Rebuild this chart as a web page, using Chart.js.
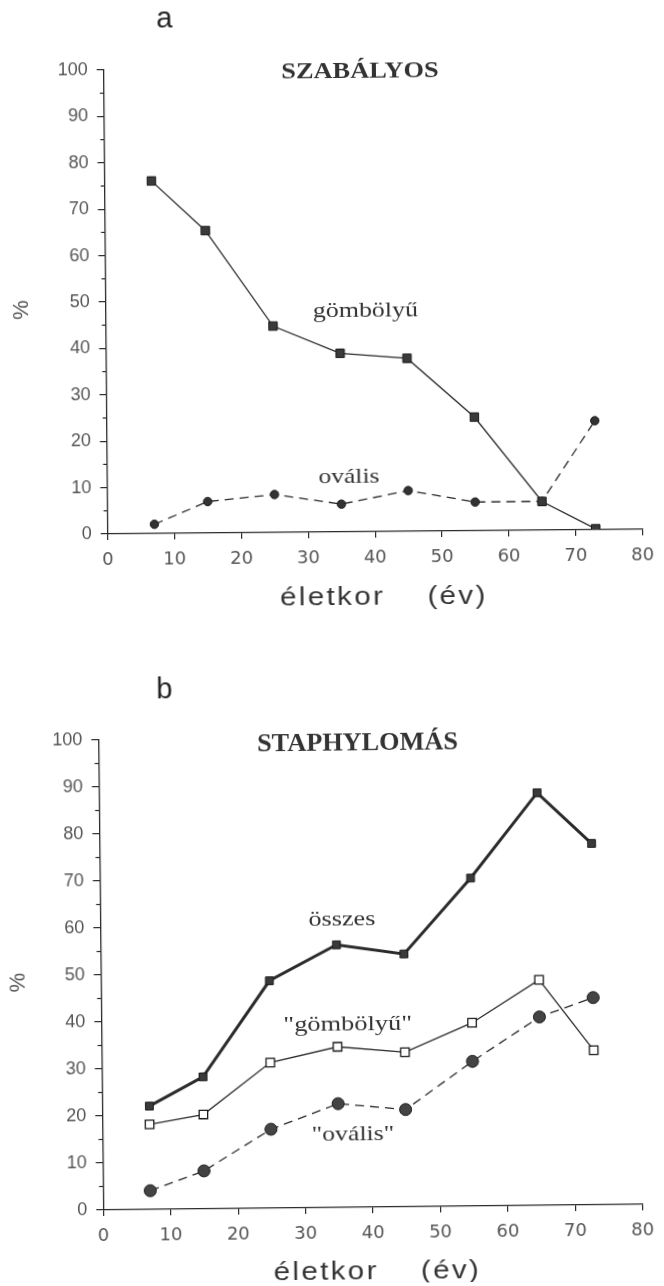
<!DOCTYPE html>
<html><head><meta charset="utf-8">
<script src="https://cdn.jsdelivr.net/npm/chart.js@4.4.1/dist/chart.umd.min.js"></script>
<style>
html,body{margin:0;padding:0;background:#fff;}
#wrap{position:relative;width:664px;height:1286px;overflow:hidden;background:#fff;}
.cv{position:absolute;left:0;width:664px;height:643px;}
</style></head><body>
<div id="wrap">
<div class="cv" id="wa" style="top:0;transform-origin:107.7px 534px;transform:rotate(-0.5deg)"><canvas id="ca" width="664" height="643"></canvas></div>
<div class="cv" id="wb" style="top:643px;transform-origin:103.3px 567px;transform:rotate(-0.6deg)"><canvas id="cb" width="664" height="643"></canvas></div>
</div>
<script>
// ---- data (age in years, % of eyes) ----
const ages = [7, 15, 25, 35, 45, 55, 65, 73];
const aRound = [76.0, 65.2, 44.5, 38.5, 37.3, 24.5, 6.2, 0.2];
const aOval = [2.0, 6.8, 8.2, 6.0, 8.8, 6.2, 6.2, 23.5];
const bTotal = [22.0, 28.1, 48.4, 55.9, 53.8, 69.8, 87.8, 76.9];
const bRound = [18.1, 20.1, 31.0, 34.2, 32.9, 39.0, 48.0, 32.9];
const bOval = [4.0, 8.1, 16.8, 22.1, 20.7, 30.8, 40.1, 44.1];
const xTickValues = [0, 10, 20, 30, 40, 50, 60, 70, 80];
const yTickValues = [0, 10, 20, 30, 40, 50, 60, 70, 80, 90, 100];
const yMinorValues = [5, 15, 25, 35, 45, 55, 65, 75, 85, 95];

const pts = (ys) => ages.map((x, i) => ({x: x, y: ys[i]}));

const INK = '#2b2b2b';

const annotPlugin = {
  id: 'annot',
  afterDraw(chart, args, opts) {
    const ctx = chart.ctx;
    const ys = chart.scales.y;
    ctx.save();
    ctx.strokeStyle = INK; ctx.lineWidth = 1.2;
    yMinorValues.forEach(v => {
      const py = ys.getPixelForValue(v);
      ctx.beginPath(); ctx.moveTo(ys.right, py); ctx.lineTo(ys.right - 4, py); ctx.stroke();
    });
    const th = opts.angle * Math.PI / 180, px = opts.pivot[0], py = opts.pivot[1];
    (opts.texts || []).forEach(t => {
      // measured screen position -> canvas position (undo page tilt)
      const dx = t.x - px, dy = t.y - py;
      const cx = px + dx * Math.cos(th) - dy * Math.sin(th);
      const cy = py + dx * Math.sin(th) + dy * Math.cos(th);
      ctx.save();
      ctx.font = t.font;
      ctx.fillStyle = t.color || '#333';
      ctx.textAlign = 'center';
      ctx.textBaseline = t.baseline || 'alphabetic';
      ctx.letterSpacing = t.ls || '0px';
      ctx.translate(cx, cy);
      if (t.rot) ctx.rotate(t.rot);
      ctx.scale(t.sx || 1, 1);
      ctx.fillText(t.text, 0, 0);
      ctx.restore();
    });
    ctx.restore();
  }
};

function makeChart(id, datasets, area, angle, texts) {
  return new Chart(document.getElementById(id), {
    type: 'scatter',
    data: { datasets: datasets },
    options: {
      responsive: false,
      animation: false,
      events: [],
      layout: { padding: { top: area.top, right: 664 - area.right, left: 0, bottom: 0 } },
      plugins: { legend: { display: false }, tooltip: { enabled: false },
        annot: { texts: texts, angle: angle, pivot: [area.left, area.bottom] } },
      scales: {
        x: {
          type: 'linear', min: 0, max: 80,
          afterFit: s => { s.height = 643 - area.bottom; },
          afterBuildTicks: s => { s.ticks = xTickValues.map(v => ({value: v})); },
          grid: { drawOnChartArea: false, drawTicks: true, tickLength: 6, color: INK, lineWidth: 1.2 },
          border: { display: true, color: INK, width: 1.3 },
          ticks: { padding: 10, color: '#555', font: { family: 'DejaVu Sans', size: 18 }, maxRotation: 0 }
        },
        y: {
          type: 'linear', min: 0, max: 100,
          afterFit: s => { s.width = area.left; },
          afterBuildTicks: s => { s.ticks = yTickValues.map(v => ({value: v})); },
          grid: { drawOnChartArea: false, drawTicks: true, tickLength: 7, color: INK, lineWidth: 1.2 },
          border: { display: true, color: INK, width: 1.3 },
          ticks: { padding: 9, color: '#555', font: { family: 'Liberation Sans', size: 18 } }
        }
      }
    },
    plugins: [annotPlugin]
  });
}

const serif = (s, b) => (b ? 'bold ' : '') + s + 'px "Liberation Serif", "Times New Roman", serif';
const sans = (s) => s + 'px "Liberation Sans", Arial, sans-serif';

makeChart('ca', [
  { label: 'gömbölyű', data: pts(aRound), showLine: true, borderColor: INK, borderWidth: 1.3,
    pointStyle: 'rect', pointRadius: 6, backgroundColor: '#3a3a3a', pointBorderColor: '#1a1a1a', pointBorderWidth: 1 },
  { label: 'ovális', data: pts(aOval), showLine: true, borderColor: INK, borderWidth: 1.3, borderDash: [9, 6],
    pointStyle: 'circle', pointRadius: 4.2, backgroundColor: '#333', pointBorderColor: '#1a1a1a', pointBorderWidth: 1 }
], { left: 107.7, right: 652.3, top: 70, bottom: 534 }, 0.5, [
  { text: 'a', x: 164.5, y: 27, font: sans(29), color: '#222' },
  { text: 'SZABÁLYOS', x: 360, y: 78, font: serif(24, true), sx: 1.1, color: '#333' },
  { text: 'gömbölyű', x: 365.5, y: 317, font: serif(22), sx: 1.18, color: '#333' },
  { text: 'ovális', x: 349, y: 482.7, font: serif(22), sx: 1.16, color: '#333' },
  { text: '%', x: 21.7, y: 310, font: sans(22), rot: -Math.PI / 2, baseline: 'middle', color: '#555' },
  { text: 'életkor    (év)', x: 384, y: 605, font: sans(25), sx: 1.18, ls: '2px', color: '#333' }
]);

makeChart('cb', [
  { label: 'összes', data: pts(bTotal), showLine: true, borderColor: INK, borderWidth: 3,
    pointStyle: 'rect', pointRadius: 5.5, backgroundColor: '#3a3a3a', pointBorderColor: '#1a1a1a', pointBorderWidth: 1 },
  { label: '"gömbölyű"', data: pts(bRound), showLine: true, borderColor: INK, borderWidth: 1.3,
    pointStyle: 'rect', pointRadius: 6, backgroundColor: '#fff', pointBorderColor: '#1a1a1a', pointBorderWidth: 1.3 },
  { label: '"ovális"', data: pts(bOval), showLine: true, borderColor: INK, borderWidth: 1.3, borderDash: [9, 6],
    pointStyle: 'circle', pointRadius: 6, backgroundColor: '#444', pointBorderColor: '#1a1a1a', pointBorderWidth: 1 }
], { left: 103.3, right: 648.3, top: 97, bottom: 567 }, 0.6, [
  { text: 'b', x: 164.5, y: 55, font: sans(29), color: '#222' },
  { text: 'STAPHYLOMÁS', x: 357.6, y: 107, font: serif(25, true), sx: 1.05, color: '#333' },
  { text: 'összes', x: 342, y: 282, font: serif(22), sx: 1.19, color: '#333' },
  { text: '"gömbölyű"', x: 347.8, y: 387, font: serif(22), sx: 1.2, color: '#333' },
  { text: '"ovális"', x: 353, y: 497, font: serif(22), sx: 1.17, color: '#333' },
  { text: '%', x: 19, y: 339.5, font: sans(22), rot: -Math.PI / 2, baseline: 'middle', color: '#555' },
  { text: 'életkor    (év)', x: 377.5, y: 636, font: sans(25), sx: 1.18, ls: '2px', color: '#333' }
]);
</script>
</body></html>
